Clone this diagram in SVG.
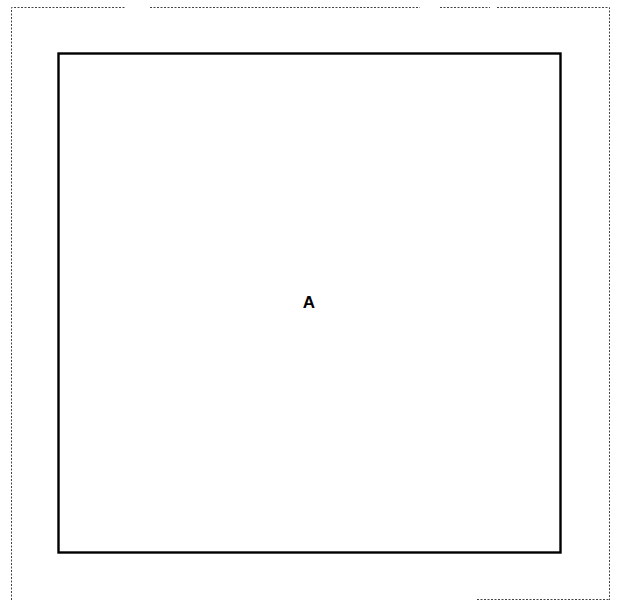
<svg xmlns="http://www.w3.org/2000/svg" width="618" height="601" viewBox="0 0 618 601">
<style>
.frame{fill:none;stroke:#444;stroke-width:1;stroke-dasharray:2 1.5}
.node{fill:#fff;stroke:#000;stroke-width:2.4}
.lbl{font-family:"Liberation Sans",Arial,sans-serif;font-size:17px;font-weight:bold;fill:#000}
</style>
<rect width="618" height="601" fill="#fff"/>
<path class="frame" d="M11.5 600V7.5H126 M150 7.5H420 M440 7.5H490 M497 7.5H609.5V600 M477 599.5H609.5"/>
<g id="connectors"></g>
<g id="node-A">
<rect class="node" x="58.5" y="53.5" width="502" height="499"/>
<text class="lbl" x="309" y="308" text-anchor="middle">A</text>
</g>
</svg>
